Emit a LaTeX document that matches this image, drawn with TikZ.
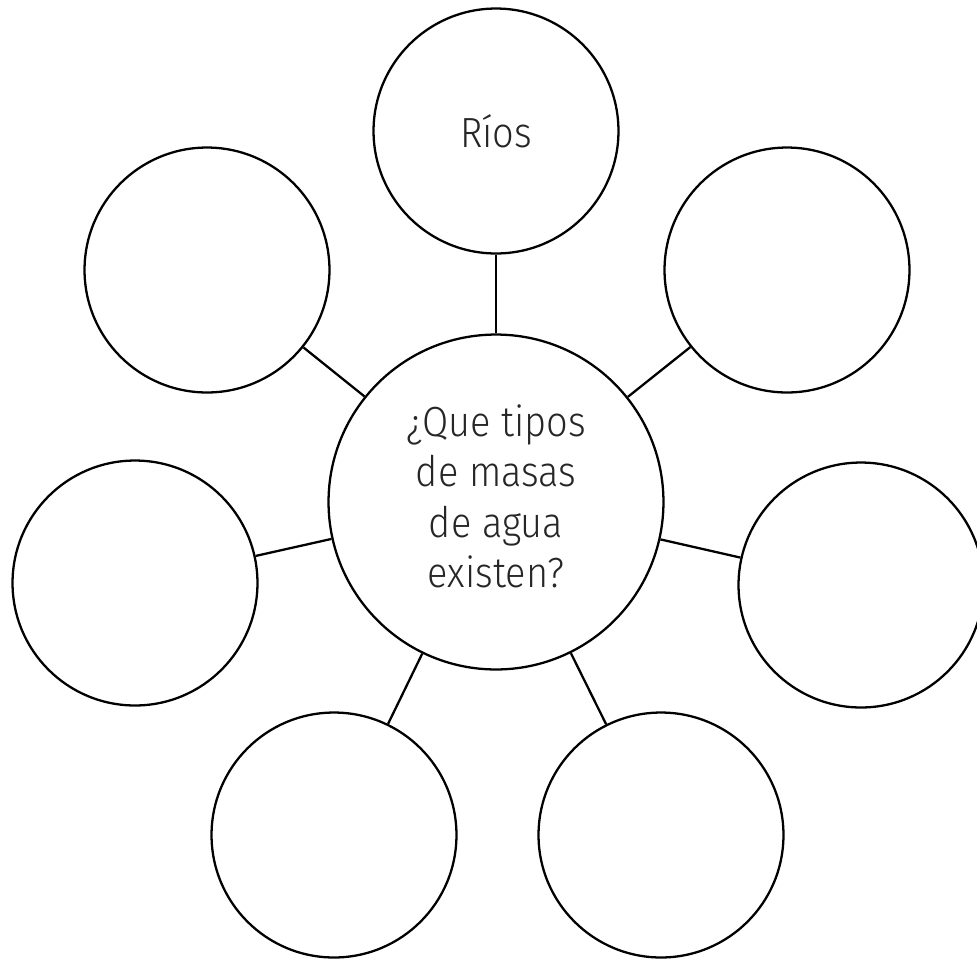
\documentclass[tikz,border=0pt]{standalone}
\usepackage{fontspec}
\setmainfont{Fira Sans}[UprightFont=* Light,FakeStretch=0.9]
\usetikzlibrary{positioning}

\begin{document}
\begin{tikzpicture}[x=0.02cm,y=-0.02cm,line width=1.3pt,
    bubble/.style={circle,draw,minimum size=4.9cm,inner sep=0pt,align=center},
    hub/.style={circle,draw,minimum size=6.7cm,inner sep=0pt,align=center},
    every node/.append style={font=\fontsize{24}{28.5}\selectfont,text=black!85}]
      \useasboundingbox (0,0) rectangle (977,958);
      \node[hub] (q_c) at (496,502) {\raisebox{-4pt}{\begin{tabular}{@{}c@{}}¿Que tipos\\de masas\\de agua\\existen?\end{tabular}}};
      \node[bubble] (q_top) at (496,131) {Ríos};
      \node[bubble] (q_ul) at (207,270) {};
      \node[bubble] (q_ur) at (787,270) {};
      \node[bubble] (q_l) at (135,583) {};
      \node[bubble] (q_r) at (861,585) {};
      \node[bubble] (q_bl) at (334,835) {};
      \node[bubble] (q_br) at (661,835) {};
      \path[-]
      (q_c) edge (q_top)
      (q_c) edge (q_ul)
      (q_c) edge (q_ur)
      (q_c) edge (q_l)
      (q_c) edge (q_r)
      (q_c) edge (q_bl)
      (q_c) edge (q_br)
      ; %end path
\end{tikzpicture}
\end{document}
